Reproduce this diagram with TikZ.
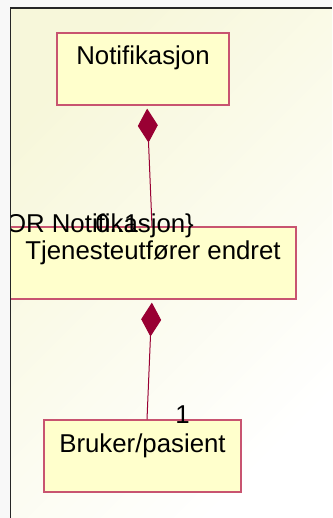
\documentclass[tikz,border=0pt]{standalone}
\usepackage{fontspec}
\setmainfont{Liberation Sans}
\usepackage{xcolor}
\usepackage{tikz}
\usetikzlibrary{positioning,arrows,arrows.meta}

\definecolor{clsfill}{HTML}{FFFFCC}
\definecolor{clsdraw}{HTML}{C85470}
\definecolor{assoc}{HTML}{990033}
\definecolor{bgyellow}{HTML}{F7F7DA}
\definecolor{outside}{HTML}{F8F8F8}

\begin{document}
\begin{tikzpicture}[x=0.5pt,y=-0.5pt,node distance=97pt,on grid,font=\fontsize{12.9}{14}\selectfont]
    \tikzstyle{cls}=[draw=clsdraw,line width=0.6pt,fill=clsfill,minimum height=36pt,text height=10pt,text depth=14pt,inner sep=1pt]
    \tikzstyle{comp}=[draw=assoc,line width=0.5pt,{Diamond[length=17pt,width=10pt,fill=assoc]}-,shorten <=1.5pt]
    \tikzstyle{mult}=[anchor=base west,inner sep=0pt]
    \useasboundingbox (0,0) rectangle (332,518);
    \fill[outside] (0,0) rectangle (332,518);
    \shade[top color=bgyellow,bottom color=white,shading angle=45] (10.5,8) rectangle (332,518);
    \draw[line width=0.6pt,black!85] (10.5,518) -- (10.5,8) -- (332,8);
    \begin{scope}
        \clip (11,8.5) rectangle (332,518);
        \node[cls,minimum width=86pt] (Notif) at (143,69) {Notifikasjon};
        \node[cls,minimum width=143pt] (Tjen) [below right=97pt and 5pt of Notif] {Tjenesteutfører endret};
        \node[cls,minimum width=98.5pt] (Bruker) [below left=96.5pt and 5.25pt of Tjen] {Bruker/pasient};
        \draw[comp] ([xshift=2pt]Notif.south) -- ([xshift=-0.5pt]Tjen.north);
        \draw[comp] ([xshift=-0.5pt]Tjen.south) -- ([xshift=2.25pt]Bruker.north);
        \node[mult] (orlbl) at (-3,232) {\{OR Notifikasjon\}};
        \node[mult] (m01) at (95,232) {0..1};
        \node[mult] (m1) at (175,423) {1};
    \end{scope}
\end{tikzpicture}
\end{document}
